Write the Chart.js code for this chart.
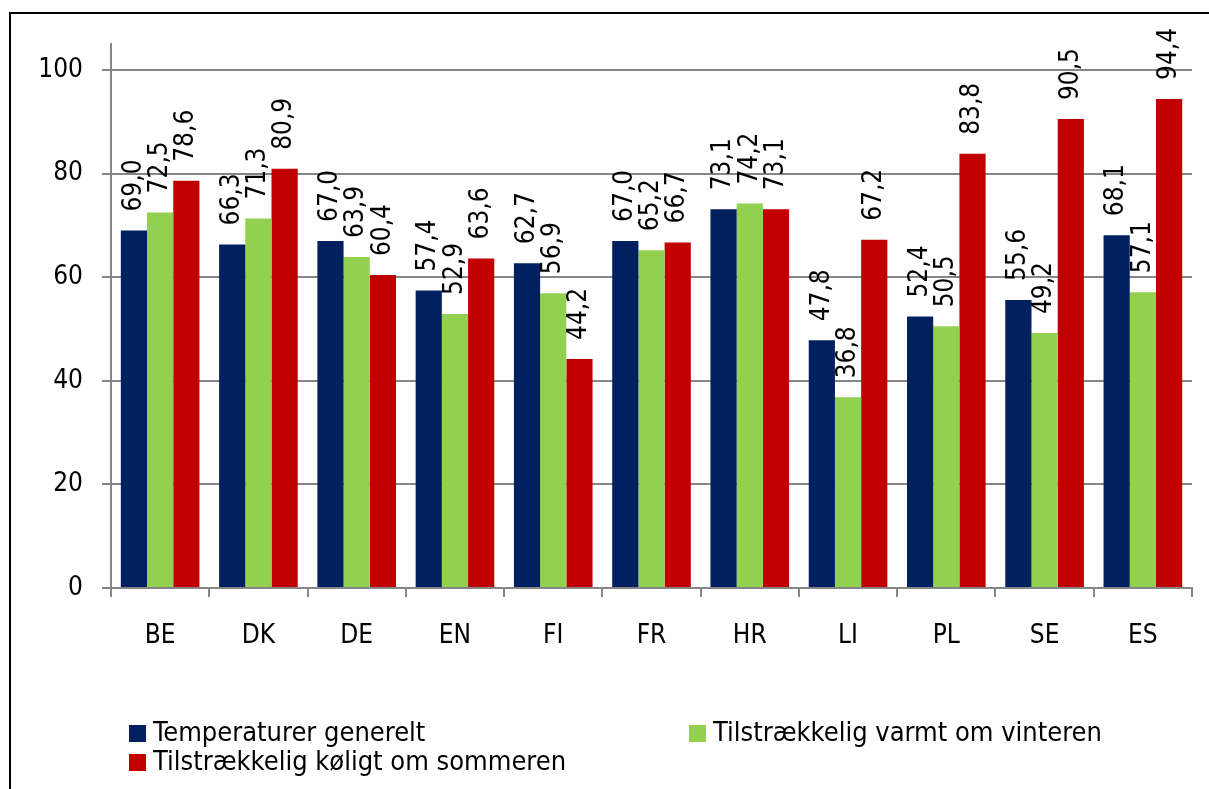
<!DOCTYPE html>
<html>
<head>
<meta charset="utf-8">
<script src="https://cdn.jsdelivr.net/npm/chart.js@4"></script>
<style>
  html, body { margin: 0; padding: 0; background: #fff; overflow: hidden; }
  #ramme { position: absolute; left: 9px; top: 12px; width: 1300px; height: 900px; border: 2px solid #000; }
  #graf { position: absolute; left: 0; top: 0; }
  .forklaring { position: absolute; font-family: "Liberation Sans Narrow", "DejaVu Sans Condensed", sans-serif; font-size: 27px; color: #000; white-space: nowrap; line-height: 30px; }
  .forklaring span { display: inline-block; width: 17px; height: 17px; margin-right: 7px; vertical-align: -1px; }
</style>
</head>
<body>
<div id="ramme"></div>
<canvas id="graf" width="1209" height="789"></canvas>
<div id="forklaring"></div>

<script>
const lande = ["BE", "DK", "DE", "EN", "FI", "FR", "HR", "LI", "PL", "SE", "ES"]
const serieNavne = ["Temperaturer generelt", "Tilstrækkelig varmt om vinteren", "Tilstrækkelig køligt om sommeren"]
const generelt = [69.0, 66.3, 67.0, 57.4, 62.7, 67.0, 73.1, 47.8, 52.4, 55.6, 68.1]
const vinter = [72.5, 71.3, 63.9, 52.9, 56.9, 65.2, 74.2, 36.8, 50.5, 49.2, 57.1]
const sommer = [78.6, 80.9, 60.4, 63.6, 44.2, 66.7, 73.1, 67.2, 83.8, 90.5, 94.4]
const yTicks = [0, 20, 40, 60, 80, 100]
const farver = ['#002060', '#92D050', '#C00000']

const skrift = '"Liberation Sans Narrow", "DejaVu Sans Condensed", sans-serif'

// etiketter lodret over hver søjle
const etiketPlugin = {
    id: 'etiketter',
    afterDatasetsDraw(chart) {
        const ctx = chart.ctx
        ctx.save()
        ctx.font = '26px ' + skrift
        ctx.fillStyle = '#000'
        ctx.textAlign = 'left'
        ctx.textBaseline = 'middle'
        chart.data.datasets.forEach((ds, i) => {
            const meta = chart.getDatasetMeta(i)
            meta.data.forEach((bar, j) => {
                ctx.save()
                ctx.translate(bar.x, bar.y - 19)
                ctx.rotate(-Math.PI / 2)
                ctx.fillText(ds.data[j].toFixed(1).replace('.', ','), 0, 0)
                ctx.restore()
            })
        })
        ctx.restore()
    }
}

const data = {
    labels: lande,
    datasets: [
        { label: serieNavne[0], data: generelt, backgroundColor: farver[0] },
        { label: serieNavne[1], data: vinter, backgroundColor: farver[1] },
        { label: serieNavne[2], data: sommer, backgroundColor: farver[2] }
    ]
}

new Chart(document.getElementById('graf'), {
    type: 'bar',
    data: data,
    plugins: [etiketPlugin],
    options: {
        responsive: false,
        animation: false,
        categoryPercentage: 0.8,
        barPercentage: 1.0,
        layout: { padding: { top: 44, right: 17, left: 0, bottom: 0 } },
        plugins: {
            legend: { display: false },
            tooltip: { enabled: false }
        },
        scales: {
            x: {
                grid: { offset: true, drawOnChartArea: false, color: '#868686', lineWidth: 2, tickLength: 9 },
                border: { color: '#868686', width: 2 },
                ticks: { color: '#000', font: { family: skrift, size: 26 }, padding: 24, maxRotation: 0 },
                afterFit: s => { s.height = 201 }
            },
            y: {
                min: 0,
                max: 105,
                grid: { color: '#868686', lineWidth: 2, tickLength: 9 },
                border: { color: '#868686', width: 2 },
                ticks: { color: '#000', font: { family: skrift, size: 26 }, padding: 19 },
                afterBuildTicks: s => { s.ticks = yTicks.map(v => ({ value: v })) },
                afterFit: s => { s.width = 111 }
            }
        }
    }
})

// forklaring (legend) i to kolonner som i originalen
const pladser = [[129, 717], [689, 717], [129, 746]]
const boks = document.getElementById('forklaring')
serieNavne.forEach((navn, i) => {
    const d = document.createElement('div')
    d.className = 'forklaring'
    d.style.left = pladser[i][0] + 'px'
    d.style.top = pladser[i][1] + 'px'
    d.innerHTML = '<span style="background:' + farver[i] + '"></span>' + navn
    boks.appendChild(d)
})
</script>
</body>
</html>
